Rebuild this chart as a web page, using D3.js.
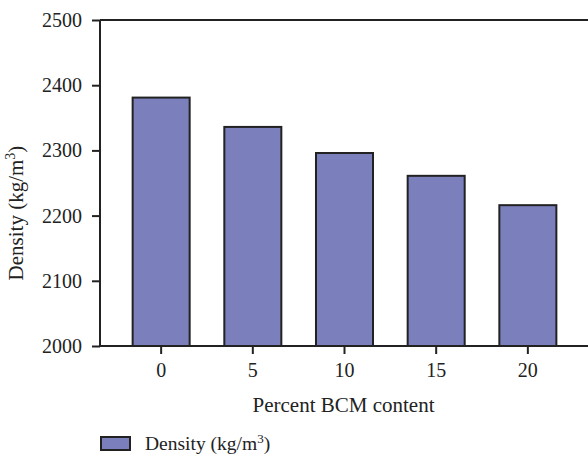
<!DOCTYPE html>
<html><head><meta charset="utf-8">
<script src="https://cdn.jsdelivr.net/npm/d3@7"></script>
<style>body{margin:0;background:#fff}svg{display:block}text{font-family:"Liberation Serif","Times New Roman",serif;fill:#222}</style>
</head><body><svg id="c" width="588" height="454"></svg>
<script>
const categories = ["0","5","10","15","20"];
const densityValues = [2381, 2336, 2296, 2261, 2216];
const yTicks = [2000, 2100, 2200, 2300, 2400, 2500];
const seriesName = "Density";

const svg = d3.select("#c");
const L = 100, R = 589, T = 20, B = 346;
const x = d3.scaleBand().domain(categories).range([L, R]).paddingInner(0.378).paddingOuter(0.356);
const y = d3.scaleLinear().domain([2000, 2500]).range([B, T]);
const ink = "#222", fill = "#7b7fbc";

// bars
svg.append("g").selectAll("rect").data(densityValues).join("rect")
  .attr("x", (d,i) => x(categories[i]))
  .attr("width", x.bandwidth())
  .attr("y", d => y(d))
  .attr("height", d => B - y(d))
  .attr("fill", fill).attr("stroke", ink).attr("stroke-width", 2);

// top frame line
svg.append("line").attr("x1", L).attr("x2", R).attr("y1", T).attr("y2", T)
  .attr("stroke", ink).attr("stroke-width", 2);

// y axis
const ya = svg.append("g").attr("transform", `translate(${L},0)`)
  .call(d3.axisLeft(y).tickValues(yTicks).tickSize(8).tickPadding(10).tickFormat(d3.format("d")));
ya.select(".domain").attr("stroke", ink).attr("stroke-width", 2).attr("d", `M0,${B}V${T}`);
ya.selectAll(".tick line").attr("stroke", ink).attr("stroke-width", 2);
ya.selectAll(".tick text").style("font-size", "20px").attr("fill", ink).attr("font-family", null);

// x axis
const xa = svg.append("g").attr("transform", `translate(0,${B})`)
  .call(d3.axisBottom(x).tickSize(8).tickPadding(9));
xa.select(".domain").attr("stroke", ink).attr("stroke-width", 2).attr("d", `M${L-1},0H${R}`);
xa.selectAll(".tick line").attr("stroke", ink).attr("stroke-width", 2);
xa.selectAll(".tick text").style("font-size", "20px").attr("fill", ink).attr("font-family", null);

// axis titles
svg.append("text").attr("x", (L + R) / 2 - 1).attr("y", 412).attr("text-anchor", "middle")
  .style("font-size", "21px").text("Percent BCM content");

const yl = svg.append("text").attr("transform", "translate(23,213) rotate(-90)")
  .attr("text-anchor", "middle").style("font-size", "21px");
yl.append("tspan").text(seriesName + " (kg/m");
yl.append("tspan").attr("dy", -8).style("font-size", "14px").text("3");
yl.append("tspan").attr("dy", 8).text(")");

// legend
svg.append("rect").attr("x", 101).attr("y", 437).attr("width", 29).attr("height", 13)
  .attr("fill", fill).attr("stroke", ink).attr("stroke-width", 2);
const lt = svg.append("text").attr("x", 145).attr("y", 450).style("font-size", "19.5px");
lt.append("tspan").text(seriesName + " (kg/m");
lt.append("tspan").attr("dy", -7).style("font-size", "13px").text("3");
lt.append("tspan").attr("dy", 7).text(")");
</script></body></html>
